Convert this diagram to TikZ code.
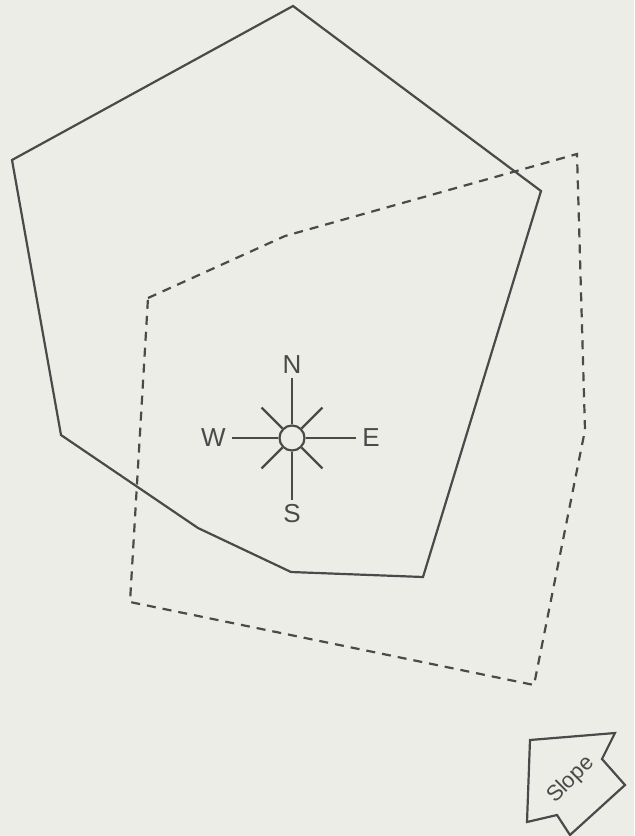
\documentclass[tikz,border=0pt]{standalone}
\usepackage{fontspec}
\setmainfont{Liberation Sans}
\usetikzlibrary{calc,positioning}
\definecolor{paper}{HTML}{EDEDE8}
\definecolor{ink}{HTML}{4A4A4A}
\begin{document}
\begin{tikzpicture}[
  x=0.5pt,y=-0.5pt,
  plot/.style={draw=ink,line width=1.1pt,line join=miter},
  survey/.style={draw=ink,line width=1.1pt,dash pattern=on 4.5pt off 3.5pt},
  ray/.style={draw=ink,line width=1.1pt},
  dir/.style={font=\fontsize{13}{15}\selectfont,text=ink,inner sep=1pt},
  hubring/.style={circle,draw=ink,line width=1.1pt,minimum size=12.5pt,inner sep=0pt}
]
\fill[paper] (0,0) rectangle (634,836);
\useasboundingbox (0,0) rectangle (634,836);
% solid outline
\draw[plot] (293,6) -- (541,191) -- (423,577) -- (291,572) -- (198,528)
  -- (61,435) -- (12,160) -- cycle;
% dashed outline
\draw[survey] (148,298) -- (285,236) -- (577,154) -- (585,430) -- (534,685)
  -- (130,602) -- cycle;
% compass
\node[hubring] (hub) at (292,438) {};
\coordinate (tipN) at (292,378);
\coordinate (tipS) at (292,500);
\coordinate (tipW) at (232,438);
\coordinate (tipE) at (356,438);
\foreach \d in {N,S,W,E}{
  \draw[ray] (hub) -- (tip\d);
}
\foreach \a in {45,135,225,315}{
  \coordinate (diag\a) at ($(hub)+(\a:43)$);
  \draw[ray] (hub) -- (diag\a);
}
\node[dir,above=1pt of tipN] (labN) {N};
\node[dir,below=1pt of tipS] (labS) {S};
\node[dir,left=2pt of tipW] (labW) {W};
\node[dir,right=2pt of tipE] (labE) {E};
% slope arrow
\draw[plot] (530,740) -- (615,733) -- (602,759) -- (625,785) -- (570,835)
  -- (557,815) -- (527,822) -- cycle;
\node[dir,font=\fontsize{11}{13}\selectfont,rotate=45] (slope) at (571,780) {Slope};
\end{tikzpicture}
\end{document}
